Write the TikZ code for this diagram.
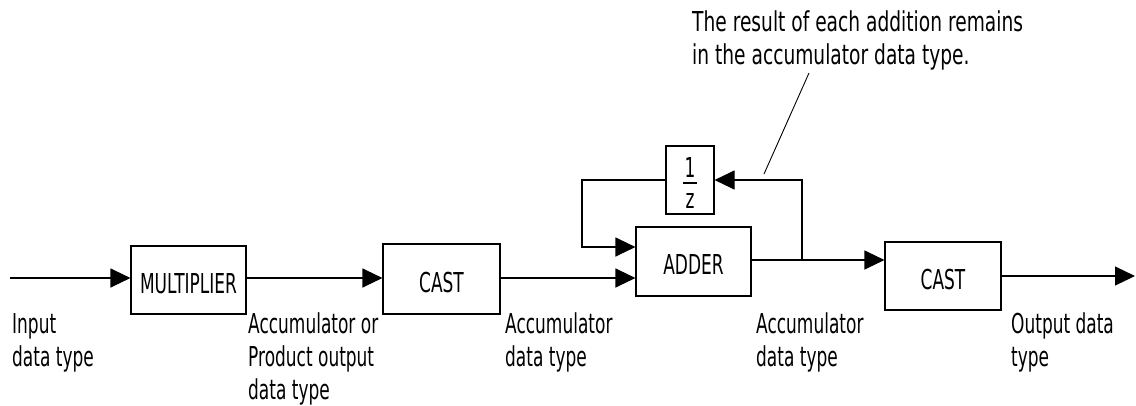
\documentclass[tikz,border=0pt]{standalone}
\usepackage{fontspec}
\setmainfont[FakeStretch=0.62]{DejaVu Sans}
\newfontfamily\annfont[FakeStretch=0.68]{DejaVu Sans}
\usetikzlibrary{arrows.meta}
\begin{document}
\begin{tikzpicture}[x=1pt,y=-1pt,
  blk/.style={draw, line width=1.1pt, rectangle, inner sep=0pt, text height=26pt, text depth=0pt, font=\fontsize{27.4}{33}\selectfont},
  conn/.style={line width=1.1pt, -{Triangle[length=20pt,width=19pt]}},
  wire/.style={line width=1.1pt},
  lbl/.style={anchor=base west, align=left, inner sep=0pt, font=\fontsize{27.4}{33}\selectfont},
  frac/.style={anchor=base, inner sep=0pt, font=\fontsize{27.4}{33}\selectfont},
]
\useasboundingbox (0,0) rectangle (1136,405);
% blocks
\node[blk, minimum width=115pt, minimum height=68pt] (mult) at (188.5,280) {MULTIPLIER};
\node[blk, minimum width=117pt, minimum height=70pt] (cast1) at (441.5,279) {CAST};
\node[blk, minimum width=115pt, minimum height=69pt] (adder) at (693.5,261.5) {ADDER};
\node[blk, minimum width=48pt, minimum height=68pt] (delay) at (690,180) {};
\node[blk, minimum width=116pt, minimum height=68pt] (cast2) at (943,276) {CAST};
% 1/z content
\node[frac] (one) at (690,177) {1};
\node[frac] (zee) at (690,208) {z};
\coordinate (barl) at (683,183);
\coordinate (barr) at (697,183);
\draw[wire] (barl) -- (barr);
% coordinates
\coordinate (in) at (10,278);
\coordinate (out) at (1135,276);
\coordinate (jn) at (802,260);
\coordinate (fbl) at (582,247);
% connectors
\draw[conn] (in) -- (in -| mult.west);
\draw[conn] (mult.east |- in) -- (in -| cast1.west);
\draw[conn] (cast1.east |- in) -- (in -| adder.west);
\draw[conn] (adder.east |- jn) -- (jn -| cast2.west);
\draw[conn] (jn) |- (delay.east);
\draw[conn] (delay.west) -| (fbl) -- (fbl -| adder.west);
\draw[conn] (cast2.east) -- (out);
% annotation (base anchor = baseline of last line)
\node[anchor=base west, align=left, inner sep=0pt, font=\annfont\fontsize{27.4}{33}\selectfont] (note) at (692,64) {The result of each addition remains\\in the accumulator data type.};
\coordinate (ntop) at (809,73);
\coordinate (ntip) at (764,174);
\draw[line width=0.9pt] (ntop) -- (ntip);
% labels (base anchor = baseline of last line)
\node[lbl] (l1) at (12,366) {Input\\data type};
\node[lbl] (l2) at (248,399) {Accumulator or\\Product output\\data type};
\node[lbl] (l3) at (505,366) {Accumulator\\data type};
\node[lbl] (l4) at (756,366) {Accumulator\\data type};
\node[lbl] (l5) at (1011,366) {Output data\\type};
\end{tikzpicture}
\end{document}
